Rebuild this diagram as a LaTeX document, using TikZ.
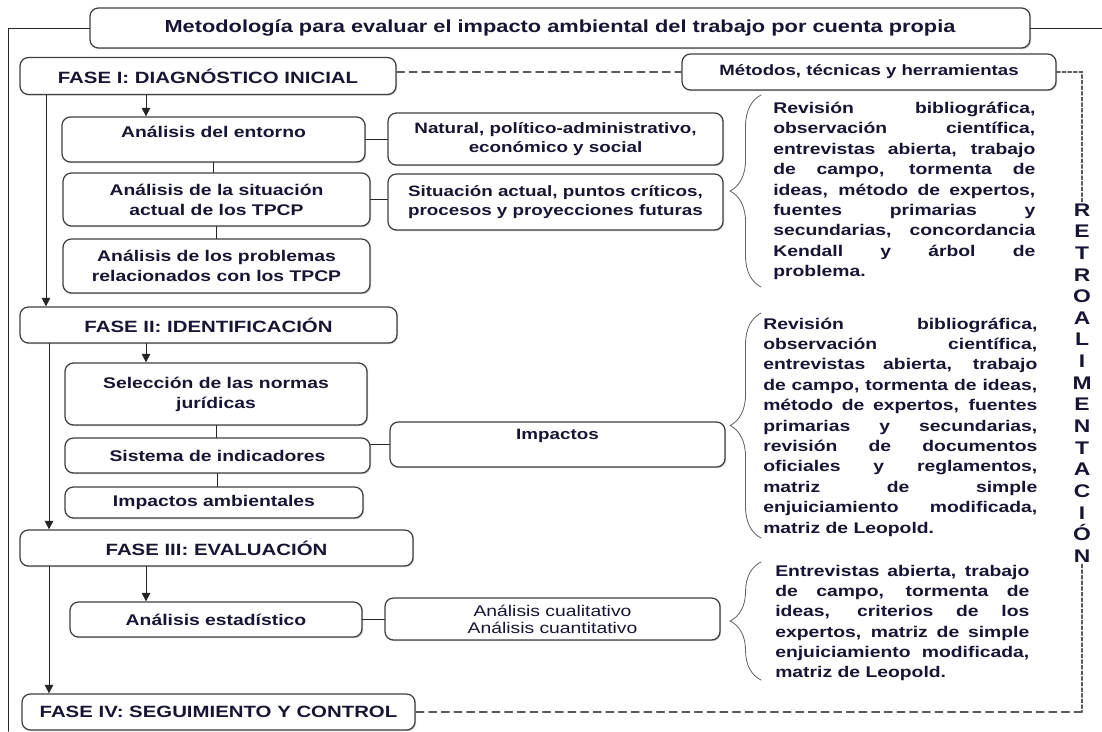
\documentclass[tikz,border=0pt]{standalone}
\usepackage{fontspec}
\setmainfont{Liberation Sans}[FakeStretch=1.25]
\usetikzlibrary{arrows.meta,calc,shadows,decorations.pathreplacing}
\definecolor{ink}{RGB}{22,22,52}

\begin{document}
\begin{tikzpicture}[x=0.025cm,y=-0.025cm,line cap=round]
  \tikzset{
    sz/.style 2 args={minimum width=#1*0.025cm,minimum height=#2*0.025cm},
    box/.style={draw=black!75,line width=0.9pt,rounded corners=6pt,fill=white,
      drop shadow={shadow xshift=0.8pt,shadow yshift=-0.8pt,fill=black!35},
      inner sep=2pt,align=center,text=ink,font=\bfseries\fontsize{11}{14.2}\selectfont},
    phase/.style={box,font=\bfseries\fontsize{11.6}{14}\selectfont},
    side/.style={box,font=\bfseries\fontsize{10.7}{13.6}\selectfont},
    link/.style={line width=0.7pt,black!85},
    arr/.style={link,-{Triangle[length=6pt,width=6pt]}},
    fb/.style={line width=0.8pt,black!65,dash pattern=on 5.5pt off 3.5pt},
    fbv/.style={line width=0.8pt,black!65,dash pattern=on 2.5pt off 1.5pt},
    tools/.style={anchor=west,inner sep=0pt,text=ink,align=justify,
      font=\bfseries\fontsize{11}{14.5}\selectfont,
      execute at begin node={\tolerance=10000\relax\hyphenpenalty=10000\relax}},
    brace/.style={decorate,decoration={brace,amplitude=22pt},line width=0.6pt,black!60}
  }
  \useasboundingbox[fill=white] (0,0) rectangle (1102,731);

  % Title and outer frame line
  \node[box,font=\bfseries\fontsize{12.4}{15}\selectfont,sz={940}{40}] (title) at (560,28)
    {Metodología para evaluar el impacto ambiental del trabajo por cuenta propia};
  \coordinate (ol) at (8,731);
  \coordinate (or) at (1102,28);
  \draw[link] (title.west) -| (ol);
  \draw[link] (title.east) -- (or);

  % Phases
  \node[phase,sz={376}{37}] (fase1) at (208,76) {FASE I: DIAGNÓSTICO INICIAL};
  \node[phase,sz={377}{36}] (fase2) at (208.5,325) {FASE II: IDENTIFICACIÓN};
  \node[phase,sz={393}{36}] (fase3) at (216.5,548) {FASE III: EVALUACIÓN};
  \node[phase,sz={393}{36}] (fase4) at (218.5,712) {FASE IV: SEGUIMIENTO Y CONTROL};

  % Phase I steps
  \node[box,sz={303}{45},text depth=11pt] (entorno) at (213.5,139.5) {Análisis del entorno};
  \node[box,sz={307}{53}] (sitL) at (216.5,199.5) {Análisis de la situación\\ actual de los TPCP};
  \node[box,sz={307}{54}] (problemas) at (216.5,266) {Análisis de los problemas\\ relacionados con los TPCP};
  \node[side,sz={335}{52}] (natural) at (555.5,139) {Natural, político-administrativo,\\ económico y social};
  \node[side,sz={335}{56}] (sitR) at (555.5,202) {Situación actual, puntos críticos,\\ procesos y proyecciones futuras};

  % Phase II steps
  \node[box,sz={302}{62}] (seleccion) at (216,394) {Selección de las normas\\ jurídicas};
  \node[box,sz={305}{35}] (sistema) at (217.5,455.5) {Sistema de indicadores};
  \node[box,sz={298}{31}] (impamb) at (214,502.5) {Impactos ambientales};
  \node[side,sz={335}{45},text depth=14pt] (impactos) at (557.5,444.5) {Impactos};

  % Phase III steps
  \node[box,sz={292}{35}] (estad) at (216,619.5) {Análisis estadístico};
  \node[side,font=\fontsize{11}{12}\selectfont,sz={335}{42}] (cualit) at (552.5,619)
    {Análisis cualitativo\\ Análisis cuantitativo};

  % Methods box and feedback loop
  \node[side,font=\bfseries\fontsize{10.6}{13}\selectfont,sz={374}{36}] (metodos) at (869,72)
    {Métodos, técnicas y herramientas};
  \node[fill=white,inner sep=1pt,align=center,text=ink,font=\bfseries\fontsize{13}{15.4}\selectfont]
    (retro) at (1082,383) {R\\E\\T\\R\\O\\A\\L\\I\\M\\E\\N\\T\\A\\C\\I\\Ó\\N};
  \coordinate (fbt) at (retro.north |- metodos.east);
  \coordinate (fbb) at (retro.south |- fase4.east);
  \draw[fb] (metodos.west -| fase1.east) -- (metodos.west);
  \draw[fbv] (metodos.east) -- (fbt) -- (retro.north);
  \draw[fbv] (retro.south) -- (fbb);
  \draw[fb] (fbb) -- (fase4.east);

  % Arrows between phases
  \coordinate (la) at (46,0);
  \coordinate (lb) at (49,0);
  \coordinate (sa) at (146,0);
  \draw[arr] (la |- fase1.south) -- (la |- fase2.north);
  \draw[arr] (lb |- fase2.south) -- (lb |- fase3.north);
  \draw[arr] (lb |- fase3.south) -- (lb |- fase4.north);
  \draw[arr] (sa |- fase1.south) -- (sa |- entorno.north);
  \draw[arr] (sa |- fase2.south) -- (sa |- seleccion.north);
  \draw[arr] (sa |- fase3.south) -- (sa |- estad.north);

  % Links between steps
  \draw[link] (entorno.south) -- (entorno.south |- sitL.north);
  \draw[link] (sitL.south) -- (sitL.south |- problemas.north);
  \draw[link] (entorno.east) -- (entorno.east -| natural.west);
  \draw[link] (sitL.east) -- (sitL.east -| sitR.west);
  \draw[link] (seleccion.south) -- (seleccion.south |- sistema.north);
  \draw[link] (sistema.south) -- (sistema.south |- impamb.north);
  \draw[link] (impactos.west -| sistema.east) -- (impactos.west);
  \draw[link] (estad.east) -- (estad.east -| cualit.west);

  % Methods per phase
  \node[tools,text width=6.55cm] (mt1) at (773,191)
    {Revisión bibliográfica,\linebreak observación científica,\linebreak
     entrevistas abierta, trabajo\linebreak de campo, tormenta de\linebreak
     ideas, método de expertos,\linebreak fuentes primarias y\linebreak
     secundarias, concordancia\linebreak Kendall y árbol de\linebreak problema.};
  \node[tools,text width=6.85cm] (mt2) at (763,427)
    {Revisión bibliográfica,\linebreak observación científica,\linebreak
     entrevistas abierta, trabajo\linebreak de campo, tormenta de ideas,\linebreak
     método de expertos, fuentes\linebreak primarias y secundarias,\linebreak
     revisión de documentos\linebreak oficiales y reglamentos,\linebreak
     matriz de simple\linebreak enjuiciamiento modificada,\linebreak matriz de Leopold.};
  \node[tools,text width=6.35cm] (mt3) at (775,623)
    {Entrevistas abierta, trabajo\linebreak de campo, tormenta de\linebreak
     ideas, criterios de los\linebreak expertos, matriz de simple\linebreak
     enjuiciamiento modificada,\linebreak matriz de Leopold.};
  \draw[brace] (761,287) -- (761,95);
  \draw[brace] (761,538) -- (761,313);
  \draw[brace] (761,680) -- (761,562);
\end{tikzpicture}
\end{document}
